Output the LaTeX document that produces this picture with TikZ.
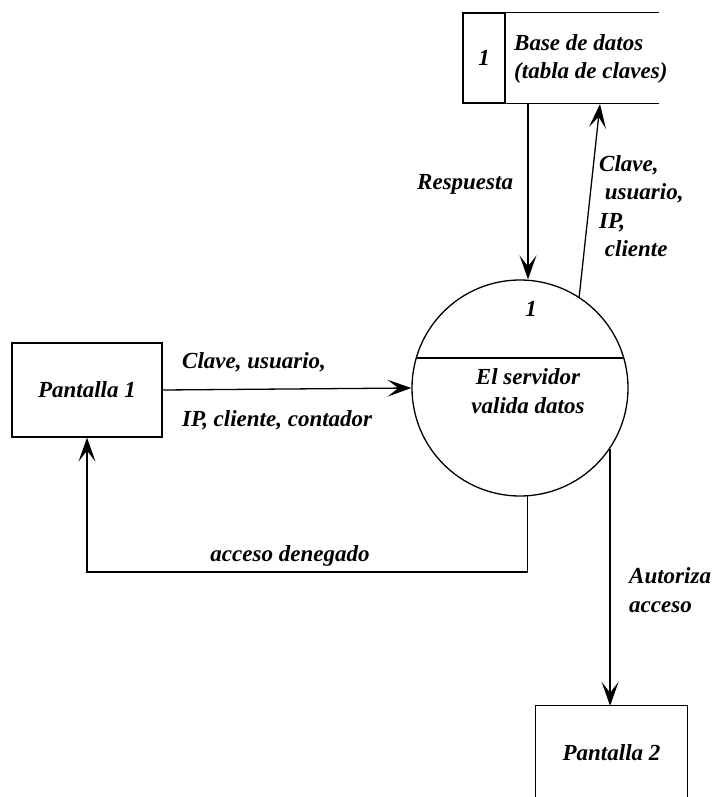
\documentclass[tikz,border=0pt]{standalone}
\usepackage{fontspec}
\setmainfont{Liberation Serif}
\usetikzlibrary{arrows.meta}
\begin{document}
\begin{tikzpicture}[x=1pt,y=-1pt,
  every node/.style={font=\fontsize{23}{28.5}\selectfont\bfseries\itshape, inner sep=0pt},
  line/.style={line width=1.3pt},
  flow/.style={line, -{Stealth[length=24pt,width=17pt,inset=11pt]}},
  extbox/.style={draw, line width=1.3pt, minimum width=150pt, minimum height=94pt},
  lbl/.style={align=left, anchor=west}]
\useasboundingbox (0,0) rectangle (715,797);

% data store
\node[draw, line width=1.3pt, minimum width=42pt, minimum height=90pt] (dsnum) at (484,58) {1};
\node[lbl] (ds) at (514,59) {Base de datos\\(tabla de claves)};
\draw[line] (dsnum.north east) -- ++(153,0);
\draw[line] (dsnum.south east) -- ++(153,0);
\coordinate (dsout) at (528,103);
\coordinate (dsin) at (600,104);

% process
\node[draw, circle, line width=1.3pt, minimum size=216pt] (proc) at (520,388) {};
\draw[line] (proc.164) -- (proc.16);
\node (procnum) at (531,309) {1};
\node[align=center] (proctxt) at (528,391) {El servidor\\valida datos};

% external entities
\node[extbox] (p1) at (87,390) {Pantalla 1};
\node[minimum width=151pt, minimum height=94pt] (p2) at (611.5,753) {Pantalla 2};
\draw[line] (p2.south west) |- (p2.north east) -- (p2.south east);
\coordinate (deny) at (87,572);

% flows
\draw[flow] (dsout) -- (proc.north -| dsout);
\draw[flow] (proc.57.6) -- (dsin);
\draw[flow] (p1.east) -- (proc.west);
\draw[flow] (proc.274.25) |- (deny) -- (p1.south);
\draw[flow] (proc.-34.4) -- (proc.-34.4 |- p2.north);

% flow labels
\node[lbl] (lresp) at (417,184) {Respuesta};
\node[lbl] (lclave) at (599,206) {Clave,\\\ usuario,\\IP,\\\ cliente};
\node[lbl] (lin1) at (182,362) {Clave, usuario,};
\node[lbl] (lin2) at (182,420) {IP, cliente, contador};
\node (lden) at (290,556) {acceso denegado};
\node[lbl] (laut) at (629,590) {Autoriza\\acceso};
\end{tikzpicture}
\end{document}
